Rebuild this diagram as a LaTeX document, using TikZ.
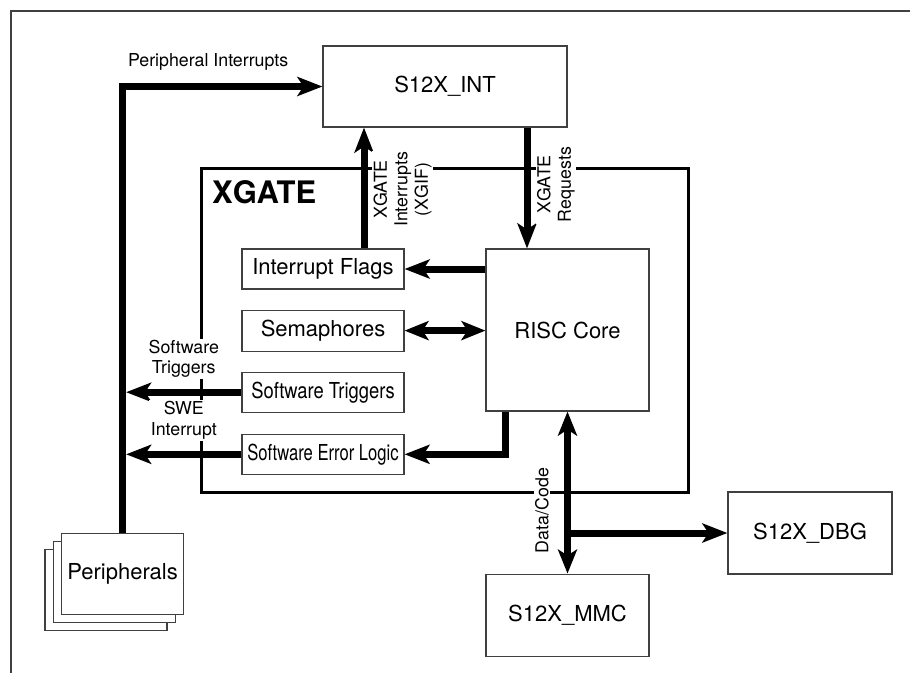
\documentclass[tikz,border=0pt]{standalone}
\usepackage{fontspec}
\setmainfont{TeX Gyre Heros}
\usetikzlibrary{arrows.meta, positioning}

\begin{document}
\begin{tikzpicture}[
  x=1pt, y=-1pt,
  box/.style={draw=black!75, line width=1.1pt, fill=white, inner sep=0pt, align=center,
    font=\fontsize{22}{26}\selectfont},
  lbl/.style={font=\fontsize{17.8}{20.5}\selectfont, align=center, fill=white, inner sep=1.5pt},
  bus/.style={line width=7pt},
  arr/.style={bus, -{Stealth[length=25pt, width=19pt, inset=6pt]}},
  dbl/.style={bus, {Stealth[length=24pt, width=19pt, inset=6pt]}-{Stealth[length=24pt, width=19pt, inset=6pt]}},
]
\useasboundingbox (0,0) rectangle (910,673);

% page frame
\draw[black!75, line width=1.1pt] (11,673) -- (11,11) -- (910,11);

% XGATE block outline
\draw[line width=3pt] (201,168) rectangle (688,492);
\node[font=\bfseries\fontsize{31}{36}\selectfont, anchor=base west, inner sep=0pt] (xgate) at (212,203) {XGATE};

% Blocks
\node[box, minimum width=244pt, minimum height=81pt] (int) at (445,86.5) {S12X\_INT};
\node[box, minimum width=163pt, minimum height=162pt] (risc) at (567.5,330) {RISC Core};
\node[box, minimum width=162pt, minimum height=40pt] (flags) at (323,269) {Interrupt Flags};
\node[box, minimum width=162pt, minimum height=41pt, below=20pt of flags] (sema) {Semaphores};
\node[box, minimum width=162pt, minimum height=40pt, below=20pt of sema] (trig)
  {\scalebox{0.835}[1]{Software Triggers}};
\node[box, minimum width=162pt, minimum height=40pt, below=21pt of trig] (swe)
  {\scalebox{0.755}[1]{Software Error Logic}};
\node[box, minimum width=163pt, minimum height=82pt, below=162pt of risc] (mmc) {S12X\_MMC};
\node[box, minimum width=164pt, minimum height=82pt] (dbg) at (810,533) {S12X\_DBG};

% Stacked peripherals
\node[box, minimum width=122pt, minimum height=81pt] (periphc) at (106,589.7) {};
\node[box, minimum width=122pt, minimum height=81pt] (periphb) at (114.3,581.7) {};
\node[box, minimum width=122pt, minimum height=81pt] (periph) at (122.6,573.7) {Peripherals};
\coordinate (bus) at ([xshift=3.5pt]periph.north);

% Interrupt path
\draw[arr] (periph.north) |- (int.west) node[lbl, pos=0.714, above=11pt] {Peripheral Interrupts};
\draw[arr] ([xshift=41pt]flags.north) -- ([xshift=41pt]flags.north |- int.south);
\node[lbl, rotate=90] (xgif) at (402.5,189.5) {XGATE\\Interrupts\\(XGIF)};
\draw[arr] ([xshift=82pt]int.south) -- ([xshift=82pt]int.south |- risc.north);
\node[lbl, rotate=90] (xreq) at (556,184.5) {XGATE\\Requests};

% RISC Core to local blocks
\draw[arr] (flags.east -| risc.west) -- (flags.east);
\draw[dbl] (sema.east) -- (sema.east -| risc.west);
\draw[arr] ([xshift=-62pt]risc.south) |- (swe.east);

% Local blocks back to the peripheral bus
\draw[arr] (trig.west) -- (trig.west -| bus) node[lbl, midway, above=9.5pt] {Software\\Triggers};
\draw[arr] (swe.west) -- (swe.west -| bus) node[lbl, midway, above=10pt] {SWE\\Interrupt};

% Data/code bus
\draw[dbl] (risc.south) -- (mmc.north);
\node[lbl, rotate=90] (dcode) at (542,510.5) {Data/Code};
\draw[arr] (risc.south |- dbg.west) -- (dbg.west);
\end{tikzpicture}
\end{document}
